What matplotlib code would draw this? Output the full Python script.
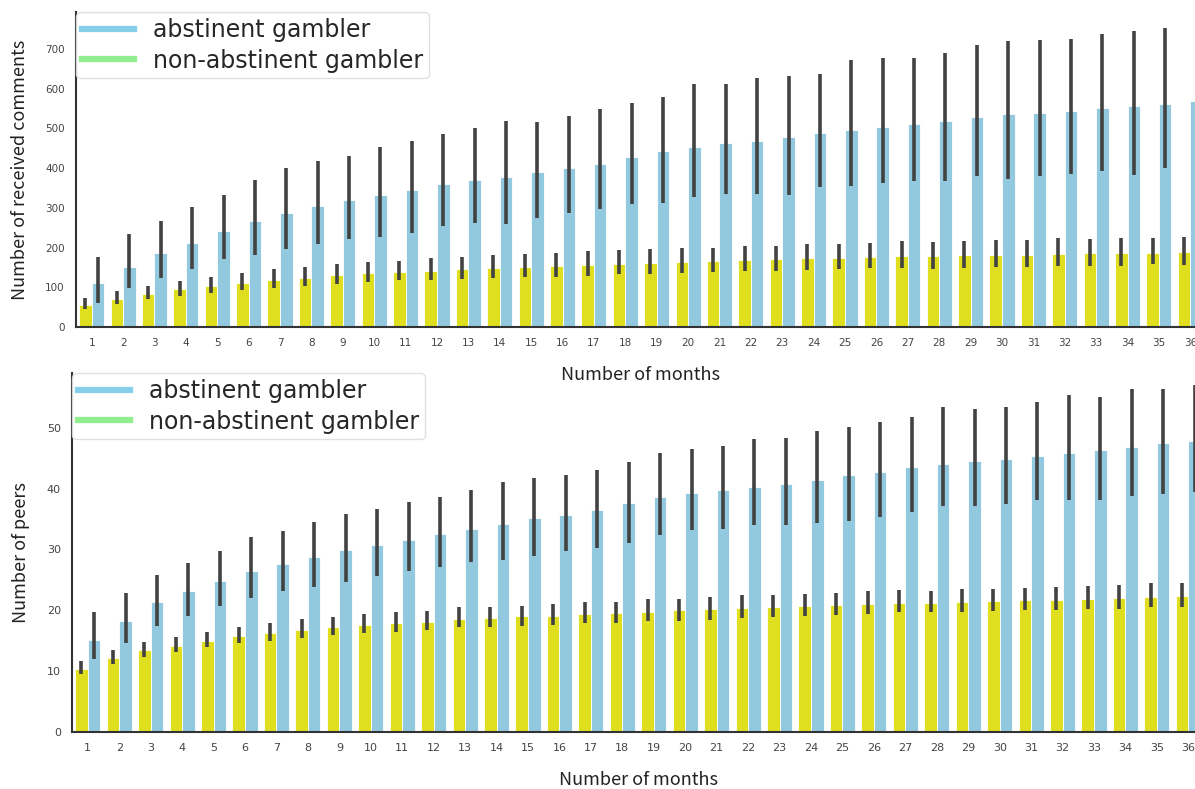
import matplotlib
matplotlib.use("Agg")
import matplotlib.pyplot as plt
from matplotlib.lines import Line2D
import numpy as np

months = list(range(1, 37))

# received comments: mean and confidence interval per month
comments_non = [55, 70, 83, 95, 103, 110, 118, 124, 130, 135, 139, 142, 145, 149, 151, 154, 157, 159,
                162, 164, 167, 169, 171, 173, 173, 176, 178, 178, 180, 180, 181, 183, 186, 186, 187, 189]
comments_non_lo = [44, 58, 70, 79, 86, 93, 99, 104, 108, 114, 118, 118, 120, 123, 127, 125, 128, 134,
                   134, 137, 139, 142, 142, 144, 145, 149, 149, 147, 149, 152, 152, 154, 154, 154, 158, 155]
comments_non_hi = [74, 91, 104, 116, 125, 135, 145, 151, 158, 164, 167, 173, 177, 182, 184, 187, 191, 193,
                   197, 198, 198, 203, 205, 209, 209, 212, 217, 215, 217, 220, 220, 223, 222, 223, 225, 227]
comments_abs = [110, 151, 187, 212, 241, 267, 287, 305, 320, 332, 345, 359, 369, 378, 389, 399, 411, 428,
                442, 454, 462, 469, 479, 488, 495, 503, 511, 519, 528, 535, 538, 544, 551, 557, 562, 569]
comments_abs_lo = [61, 97, 123, 145, 170, 181, 196, 209, 221, 227, 236, 253, 263, 259, 275, 288, 296, 309,
                   313, 326, 335, 335, 331, 352, 355, 363, 368, 368, 379, 372, 380, 386, 393, 382, 400, 416]
comments_abs_hi = [177, 233, 268, 302, 332, 370, 400, 419, 431, 454, 467, 486, 500, 519, 515, 531, 549, 565,
                   580, 612, 612, 626, 631, 637, 671, 678, 678, 689, 710, 719, 723, 725, 737, 744, 752, 756]

# number of peers
peers_non = [10.3, 12.2, 13.4, 14.2, 15.0, 15.8, 16.2, 16.7, 17.2, 17.6, 17.9, 18.1, 18.6, 18.75, 19.0, 19.1,
             19.4, 19.6, 19.7, 20.0, 20.2, 20.4, 20.6, 20.7, 20.9, 21.05, 21.2, 21.2, 21.4, 21.5, 21.7, 21.7,
             21.9, 22.0, 22.2, 22.3]
peers_non_lo = [9.5, 11.1, 12.3, 13.1, 13.9, 14.6, 15.0, 15.5, 16.0, 16.3, 16.5, 16.8, 17.2, 17.3, 17.5, 17.6,
                17.9, 18.0, 18.3, 18.3, 18.4, 18.7, 18.9, 19.0, 19.2, 19.4, 19.7, 19.7, 19.7, 19.9, 20.0, 20.1,
                20.2, 20.3, 20.5, 20.6]
peers_non_hi = [11.6, 13.4, 14.8, 15.7, 16.5, 17.3, 18.0, 18.5, 18.9, 19.4, 19.7, 19.9, 20.5, 20.6, 20.7, 21.0,
                21.3, 21.4, 21.8, 21.9, 22.2, 22.5, 22.5, 22.7, 22.8, 23.1, 23.4, 23.2, 23.5, 23.5, 23.6, 23.9,
                24.0, 24.2, 24.5, 24.5]
peers_abs = [15.2, 18.3, 21.4, 23.2, 24.8, 26.5, 27.6, 28.8, 29.9, 30.7, 31.6, 32.6, 33.3, 34.2, 35.1, 35.7,
             36.5, 37.7, 38.7, 39.3, 39.7, 40.3, 40.8, 41.4, 42.3, 42.8, 43.6, 44.0, 44.5, 44.9, 45.3, 45.8,
             46.4, 46.9, 47.5, 47.9]
peers_abs_lo = [12.0, 14.6, 17.4, 19.1, 20.7, 22.0, 23.2, 23.8, 24.7, 25.7, 26.5, 27.1, 28.0, 28.3, 28.9, 29.8,
                30.2, 31.0, 32.3, 33.2, 33.3, 34.0, 34.0, 34.4, 34.7, 35.4, 36.1, 37.2, 37.2, 37.4, 38.2, 38.2,
                38.2, 38.8, 39.1, 39.5]
peers_abs_hi = [19.8, 22.9, 25.8, 27.8, 29.7, 32.0, 33.0, 34.6, 35.9, 36.7, 37.8, 38.7, 39.8, 41.1, 41.7, 42.3,
                43.1, 44.4, 45.8, 46.5, 47.0, 48.2, 48.3, 49.5, 50.2, 51.0, 51.7, 53.5, 53.1, 53.4, 54.2, 55.4,
                55.1, 56.3, 56.4, 57.0]

YELLOW = "#DFDF20"
BLUE = "#93C9DE"
ERR = "#424242"
LABEL_FONT = ["Noto Sans CJK JP", "DejaVu Sans"]


def draw_panel(ax, non, non_lo, non_hi, ab, ab_lo, ab_hi, ylabel, ymax, yticks, tick_size):
    x = np.arange(len(months))
    w = 0.4
    ax.bar(x - w / 2, non, width=w, color=YELLOW, edgecolor="white", linewidth=0.6, zorder=2)
    ax.bar(x + w / 2, ab, width=w, color=BLUE, edgecolor="white", linewidth=0.6, zorder=2)
    ax.vlines(x - w / 2, non_lo, non_hi, color=ERR, linewidth=2.6, zorder=3)
    ax.vlines(x + w / 2, ab_lo, ab_hi, color=ERR, linewidth=2.6, zorder=3)

    ax.set_xlim(-0.5, len(months) - 0.5)
    ax.set_ylim(0, ymax)
    ax.set_xticks(x)
    ax.set_xticklabels([str(m) for m in months])
    ax.set_yticks(yticks)
    ax.tick_params(axis="both", length=0, pad=8, labelsize=tick_size, labelcolor="#444444")

    for side in ["top", "right"]:
        ax.spines[side].set_visible(False)
    for side in ["left", "bottom"]:
        ax.spines[side].set_color("#333333")
        ax.spines[side].set_linewidth(1.5)

    ax.set_xlabel("Number of months", fontsize=13, family=LABEL_FONT, color="#222222", labelpad=13)
    ax.set_ylabel(ylabel, fontsize=13, family=LABEL_FONT, color="#222222", labelpad=12)

    handles = [Line2D([0], [0], color="skyblue", lw=4.5),
               Line2D([0], [0], color="lightgreen", lw=4.5)]
    leg = ax.legend(handles, ["abstinent gambler", "non-abstinent gambler"], loc="upper left",
                    fontsize=17, borderaxespad=0, handlelength=2.2, handletextpad=0.8,
                    labelspacing=0.28, borderpad=0.25, framealpha=0.9, edgecolor="#dddddd")
    for t in leg.get_texts():
        t.set_color("#262626")


fig = plt.figure(figsize=(11.95, 7.89), dpi=100)
# axes run past the right edge of the figure, so the last month is clipped
ax1 = fig.add_axes([0.0636, 0.5856, 0.9456, 0.3992])
ax2 = fig.add_axes([0.0603, 0.0722, 0.9473, 0.4550])
# keep the upper x label on top of the lower panel
ax1.set_zorder(2)
ax1.patch.set_alpha(0)

draw_panel(ax1, comments_non, comments_non_lo, comments_non_hi,
           comments_abs, comments_abs_lo, comments_abs_hi,
           "Number of received comments", 793, range(0, 701, 100), 7.5)
draw_panel(ax2, peers_non, peers_non_lo, peers_non_hi,
           peers_abs, peers_abs_lo, peers_abs_hi,
           "Number of peers", 59, range(0, 51, 10), 8)

fig.savefig("out.png", dpi=100)
